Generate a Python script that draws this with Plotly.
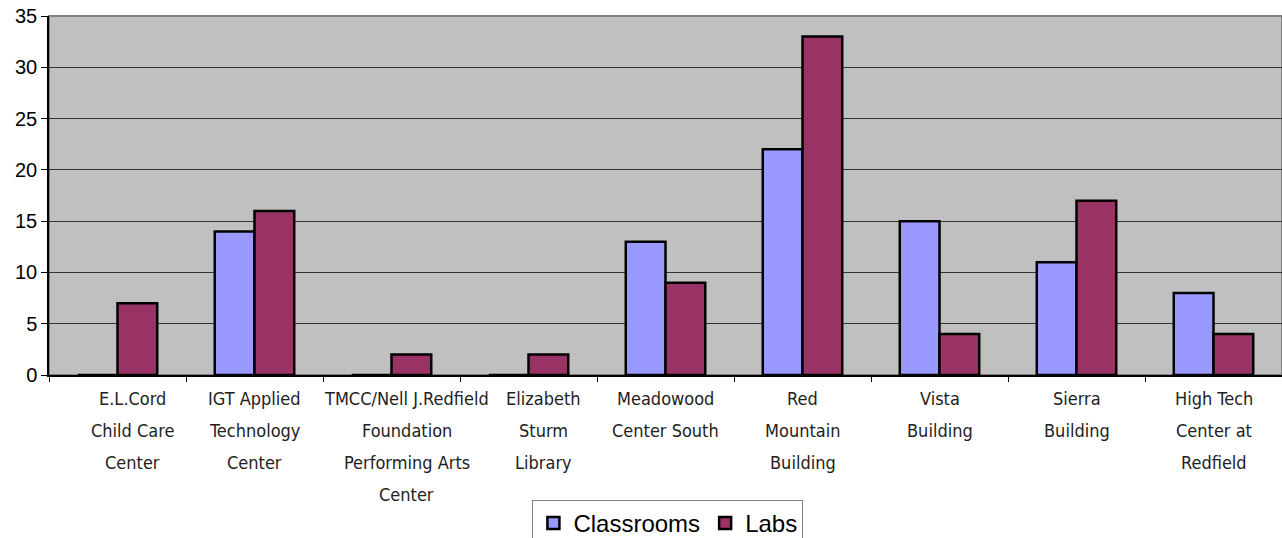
import plotly.graph_objects as go

categories = [
    "E.L.Cord<br>Child Care<br>Center",
    "IGT Applied<br>Technology<br>Center",
    "TMCC/Nell J.Redfield<br>Foundation<br>Performing Arts<br>Center",
    "Elizabeth<br>Sturm<br>Library",
    "Meadowood<br>Center South",
    "Red<br>Mountain<br>Building",
    "Vista<br>Building",
    "Sierra<br>Building",
    "High Tech<br>Center at<br>Redfield",
]
classrooms = [0, 14, 0, 0, 13, 22, 15, 11, 8]
labs = [7, 16, 2, 2, 9, 33, 4, 17, 4]
y_ticks = [0, 5, 10, 15, 20, 25, 30, 35]

fig = go.Figure()
fig.add_trace(go.Bar(x=categories, y=classrooms, name="Classrooms",
                     marker=dict(color="#9999FF", line=dict(color="black", width=2.5))))
fig.add_trace(go.Bar(x=categories, y=labs, name="Labs",
                     marker=dict(color="#993366", line=dict(color="black", width=2.5))))

# category labels as per-line annotations (to match the wider line spacing);
# in the reference, labels of groups without a Classrooms bar sit a bit to the right
for cat, c in zip(categories, classrooms):
    shift = 15 if c == 0 else 0
    for i, line in enumerate(cat.split("<br>")):
        fig.add_annotation(x=cat, xref="x", y=0, yref="paper", text=line,
                           showarrow=False, yanchor="middle", xanchor="center",
                           yshift=-(23 + 32 * i), xshift=shift,
                           font=dict(family="DejaVu Sans Condensed", size=18, color="#222222"))

fig.update_layout(
    width=1282, height=538,
    margin=dict(l=49, r=0, t=16, b=163, pad=0),
    paper_bgcolor="white",
    plot_bgcolor="#C0C0C0",
    barmode="group",
    bargap=0.42,
    bargroupgap=0,
    showlegend=True,
    legend=dict(orientation="h", xref="container", yref="container",
                x=0.521, xanchor="center", y=(538 - 500) / 538, yanchor="top",
                bordercolor="#808080", borderwidth=1, bgcolor="white",
                font=dict(family="Arial, Liberation Sans", size=24, color="black"),
                tracegroupgap=0, itemwidth=30),
    font=dict(family="Arial, Liberation Sans", color="black"),
)
fig.update_xaxes(
    showline=True, linecolor="black", linewidth=1.5,
    ticks="outside", tickson="boundaries", ticklen=5, tickcolor="black",
    showticklabels=False, automargin=False, showgrid=False,
)
fig.update_yaxes(
    range=[0, 35], tickvals=y_ticks,
    showline=True, linecolor="black", linewidth=1.5,
    ticks="outside", ticklen=6, tickcolor="black",
    tickfont=dict(family="Arial, Liberation Sans", size=20, color="black"),
    showgrid=True, gridcolor="#333333", gridwidth=1,
    zeroline=False, automargin=False,
)
fig.add_shape(type="rect", xref="paper", yref="paper", x0=0, x1=1, y0=0, y1=1,
              line=dict(color="#808080", width=2), layer="below")

fig.write_html("out.html", config={"displayModeBar": False}, post_script=(
    "document.body.style.margin='0px';"
    "document.body.style.overflow='hidden';"
))
